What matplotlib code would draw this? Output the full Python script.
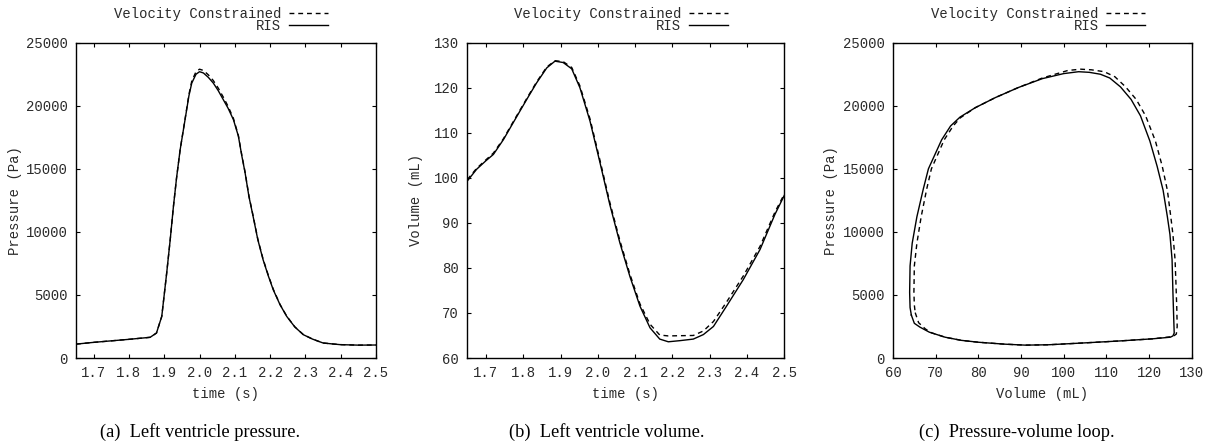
import matplotlib
matplotlib.use("Agg")
import matplotlib.pyplot as plt
from matplotlib.ticker import FormatStrFormatter, MultipleLocator

# ---------------- data ----------------
# (a) left ventricle pressure vs time
time_a = [1.65, 1.70, 1.75, 1.80, 1.86, 1.878, 1.893, 1.907, 1.917, 1.926, 1.935,
          1.945, 1.959, 1.970, 1.978, 1.990, 2.000, 2.011, 2.025, 2.039, 2.053,
          2.067, 2.081, 2.096, 2.110, 2.120, 2.129, 2.140, 2.152, 2.165, 2.180,
          2.195, 2.209, 2.228, 2.247, 2.270, 2.294, 2.320, 2.350, 2.375, 2.398,
          2.450, 2.500]
pres_ris = [1100, 1240, 1360, 1480, 1640, 1980, 3300, 6750, 9400, 12000, 14300,
            16500, 18900, 20800, 21800, 22500, 22700, 22600, 22250, 21800, 21200,
            20500, 19800, 18900, 17600, 16000, 14700, 12800, 11200, 9400, 7800,
            6500, 5400, 4230, 3300, 2460, 1850, 1500, 1190, 1120, 1060,
            1020, 1030]
pres_vc = [1100, 1240, 1360, 1480, 1640, 1980, 3300, 6750, 9400, 12000, 14300,
           16500, 18950, 20900, 21950, 22700, 22900, 22800, 22450, 22000, 21400,
           20700, 19950, 19000, 17650, 16050, 14750, 12850, 11250, 9450, 7850,
           6550, 5450, 4250, 3320, 2470, 1860, 1500, 1190, 1120, 1060,
           1020, 1030]

# (b) left ventricle volume vs time
time_b = [1.65, 1.675, 1.70, 1.72, 1.747, 1.77, 1.791, 1.815, 1.836, 1.863, 1.885,
          1.907, 1.930, 1.952, 1.979, 2.006, 2.032, 2.059, 2.086, 2.113, 2.140,
          2.166, 2.189, 2.220, 2.256, 2.283, 2.310, 2.345, 2.390, 2.435, 2.475,
          2.500]
vol_ris = [99.3, 101.9, 103.8, 105.2, 108.5, 111.8, 114.8, 118.2, 121.1, 124.4, 125.9,
           125.6, 124.2, 120.0, 112.6, 103.3, 94.1, 85.6, 78.1, 71.5, 66.7,
           64.2, 63.6, 63.85, 64.2, 65.2, 67.0, 71.5, 77.4, 84.1, 91.9,
           96.1]
vol_vc = [99.6, 102.1, 104.0, 105.5, 108.7, 112.0, 115.0, 118.4, 121.3, 124.6, 126.0,
          125.8, 124.5, 120.4, 113.1, 103.8, 94.6, 86.1, 78.6, 72.0, 67.5,
          65.1, 64.9, 64.95, 65.0, 66.0, 68.1, 72.4, 78.2, 84.8, 92.4,
          96.4]

# (c) pressure-volume loop
loop_vol_ris = [64.3, 65.0, 66.3, 68.5, 72.2, 76.0, 80.0, 86.0, 91.0, 96.5, 105.0,
                113.0, 120.8, 125.0, 125.6, 125.9, 125.8, 125.6, 125.4, 124.9, 124.3,
                123.3, 121.9, 120.2, 118.0, 115.8, 113.3, 110.8, 108.6, 106.0, 103.5,
                100.0, 95.0, 89.4, 84.0, 79.3, 75.7, 73.5, 71.4, 68.3, 67.1,
                65.6, 64.5, 64.0, 63.9, 64.0, 64.3]
loop_pres_ris = [3400, 2750, 2450, 2050, 1650, 1400, 1250, 1100, 1020, 1050, 1200,
                 1350, 1520, 1650, 1750, 1980, 3000, 5200, 7800, 9800, 11200,
                 13300, 15200, 17200, 19200, 20500, 21500, 22200, 22500, 22650, 22700,
                 22550, 22150, 21450, 20650, 19850, 19100, 18400, 17300, 15000, 13400,
                 11200, 9100, 7300, 5200, 4000, 3400]
loop_vol_vc = [65.2, 66.0, 67.6, 69.0, 72.2, 76.0, 80.0, 86.0, 91.0, 96.5, 105.0,
               113.0, 120.8, 125.6, 126.4, 126.6, 126.5, 126.3, 126.1, 125.6, 125.1,
               124.3, 123.1, 121.5, 119.2, 117.0, 114.5, 112.0, 109.5, 106.5, 104.0,
               101.0, 95.0, 89.4, 84.0, 79.3, 75.8, 74.1, 72.0, 69.0, 67.9,
               66.6, 65.6, 65.0, 64.9, 65.0, 65.2]
loop_pres_vc = [3600, 2800, 2300, 2000, 1650, 1400, 1250, 1100, 1020, 1050, 1200,
                1350, 1520, 1700, 1900, 2500, 4000, 6000, 7800, 9800, 11200,
                13300, 15200, 17200, 19200, 20500, 21500, 22300, 22700, 22850, 22900,
                22800, 22200, 21450, 20650, 19850, 19050, 18400, 17300, 15000, 13400,
                11200, 9100, 7300, 5200, 4200, 3600]

legend_labels = ["Velocity Constrained", "RIS"]
x_time_ticks = [1.7, 1.8, 1.9, 2.0, 2.1, 2.2, 2.3, 2.4, 2.5]
captions = ["(a)  Left ventricle pressure.", "(b)  Left ventricle volume.",
            "(c)  Pressure-volume loop."]

# ---------------- style ----------------
MONO = "Liberation Mono"
SERIF = "Liberation Serif"
TXT = "#2a2a2a"
plt.rcParams["font.family"] = [MONO, "DejaVu Sans"]
plt.rcParams["font.size"] = 10
plt.rcParams["text.color"] = TXT
plt.rcParams["axes.labelcolor"] = TXT

W, H = 1211, 445
fig = plt.figure(figsize=(W / 100, H / 100), dpi=100)

def px_axes(left, right, top, bottom):
    return fig.add_axes([left / W, 1 - bottom / H, (right - left) / W, (bottom - top) / H])

axA = px_axes(76, 376, 42.7, 358)
axB = px_axes(467.3, 784.3, 42.7, 358)
axC = px_axes(893, 1191.7, 42.7, 358)

DASH = (0, (3.5, 2.8))
LW = 1.0

def style(ax):
    for s in ax.spines.values():
        s.set_linewidth(1.0)
        s.set_color("black")
    ax.tick_params(direction="in", top=True, right=True, length=3.0, width=0.8,
                   labelsize=10, pad=6, color="black", labelcolor=TXT)

# (a)
axA.plot(time_a, pres_vc, color="black", lw=LW, linestyle=DASH, label=legend_labels[0])
axA.plot(time_a, pres_ris, color="black", lw=LW, label=legend_labels[1])
axA.set_xlim(1.65, 2.5)
axA.set_ylim(0, 25000)
axA.set_xticks(x_time_ticks)
axA.xaxis.set_major_formatter(FormatStrFormatter("%.1f"))
axA.yaxis.set_major_locator(MultipleLocator(5000))
axA.set_xlabel("time (s)")
axA.set_ylabel("Pressure (Pa)")

# (b)
axB.plot(time_b, vol_vc, color="black", lw=LW, linestyle=DASH, label=legend_labels[0])
axB.plot(time_b, vol_ris, color="black", lw=LW, label=legend_labels[1])
axB.set_xlim(1.65, 2.5)
axB.set_ylim(60, 130)
axB.set_xticks(x_time_ticks)
axB.xaxis.set_major_formatter(FormatStrFormatter("%.1f"))
axB.yaxis.set_major_locator(MultipleLocator(10))
axB.set_xlabel("time (s)")
axB.set_ylabel("Volume (mL)")

# (c)
axC.plot(loop_vol_vc, loop_pres_vc, color="black", lw=LW, linestyle=DASH, label=legend_labels[0])
axC.plot(loop_vol_ris, loop_pres_ris, color="black", lw=LW, label=legend_labels[1])
axC.set_xlim(60, 130)
axC.set_ylim(0, 25000)
axC.xaxis.set_major_locator(MultipleLocator(10))
axC.yaxis.set_major_locator(MultipleLocator(5000))
axC.set_xlabel("Volume (mL)")
axC.set_ylabel("Pressure (Pa)")

legend_anchor = {axA: 0.84, axB: 0.822, axC: 0.844}
ylabel_x = {axA: -0.18, axB: -0.14, axC: -0.183}
for ax in (axA, axB, axC):
    style(ax)
    ax.xaxis.labelpad = 5
    ax.yaxis.set_label_coords(ylabel_x[ax], 0.5)
    ax.legend(loc="lower right", bbox_to_anchor=(legend_anchor[ax], 1.03),
              frameon=False, markerfirst=False, handlelength=2.8,
              handletextpad=0.55, labelspacing=-0.15, borderpad=0,
              borderaxespad=0, fontsize=10)

cap_x = [200, 607, 1017]
for cx, cap in zip(cap_x, captions):
    fig.text(cx / W, 1 - 432 / H, cap, ha="center", va="center", color="black",
             family=[SERIF, "DejaVu Serif"], fontsize=13.2)

fig.savefig("out.png", dpi=100, facecolor="white")
